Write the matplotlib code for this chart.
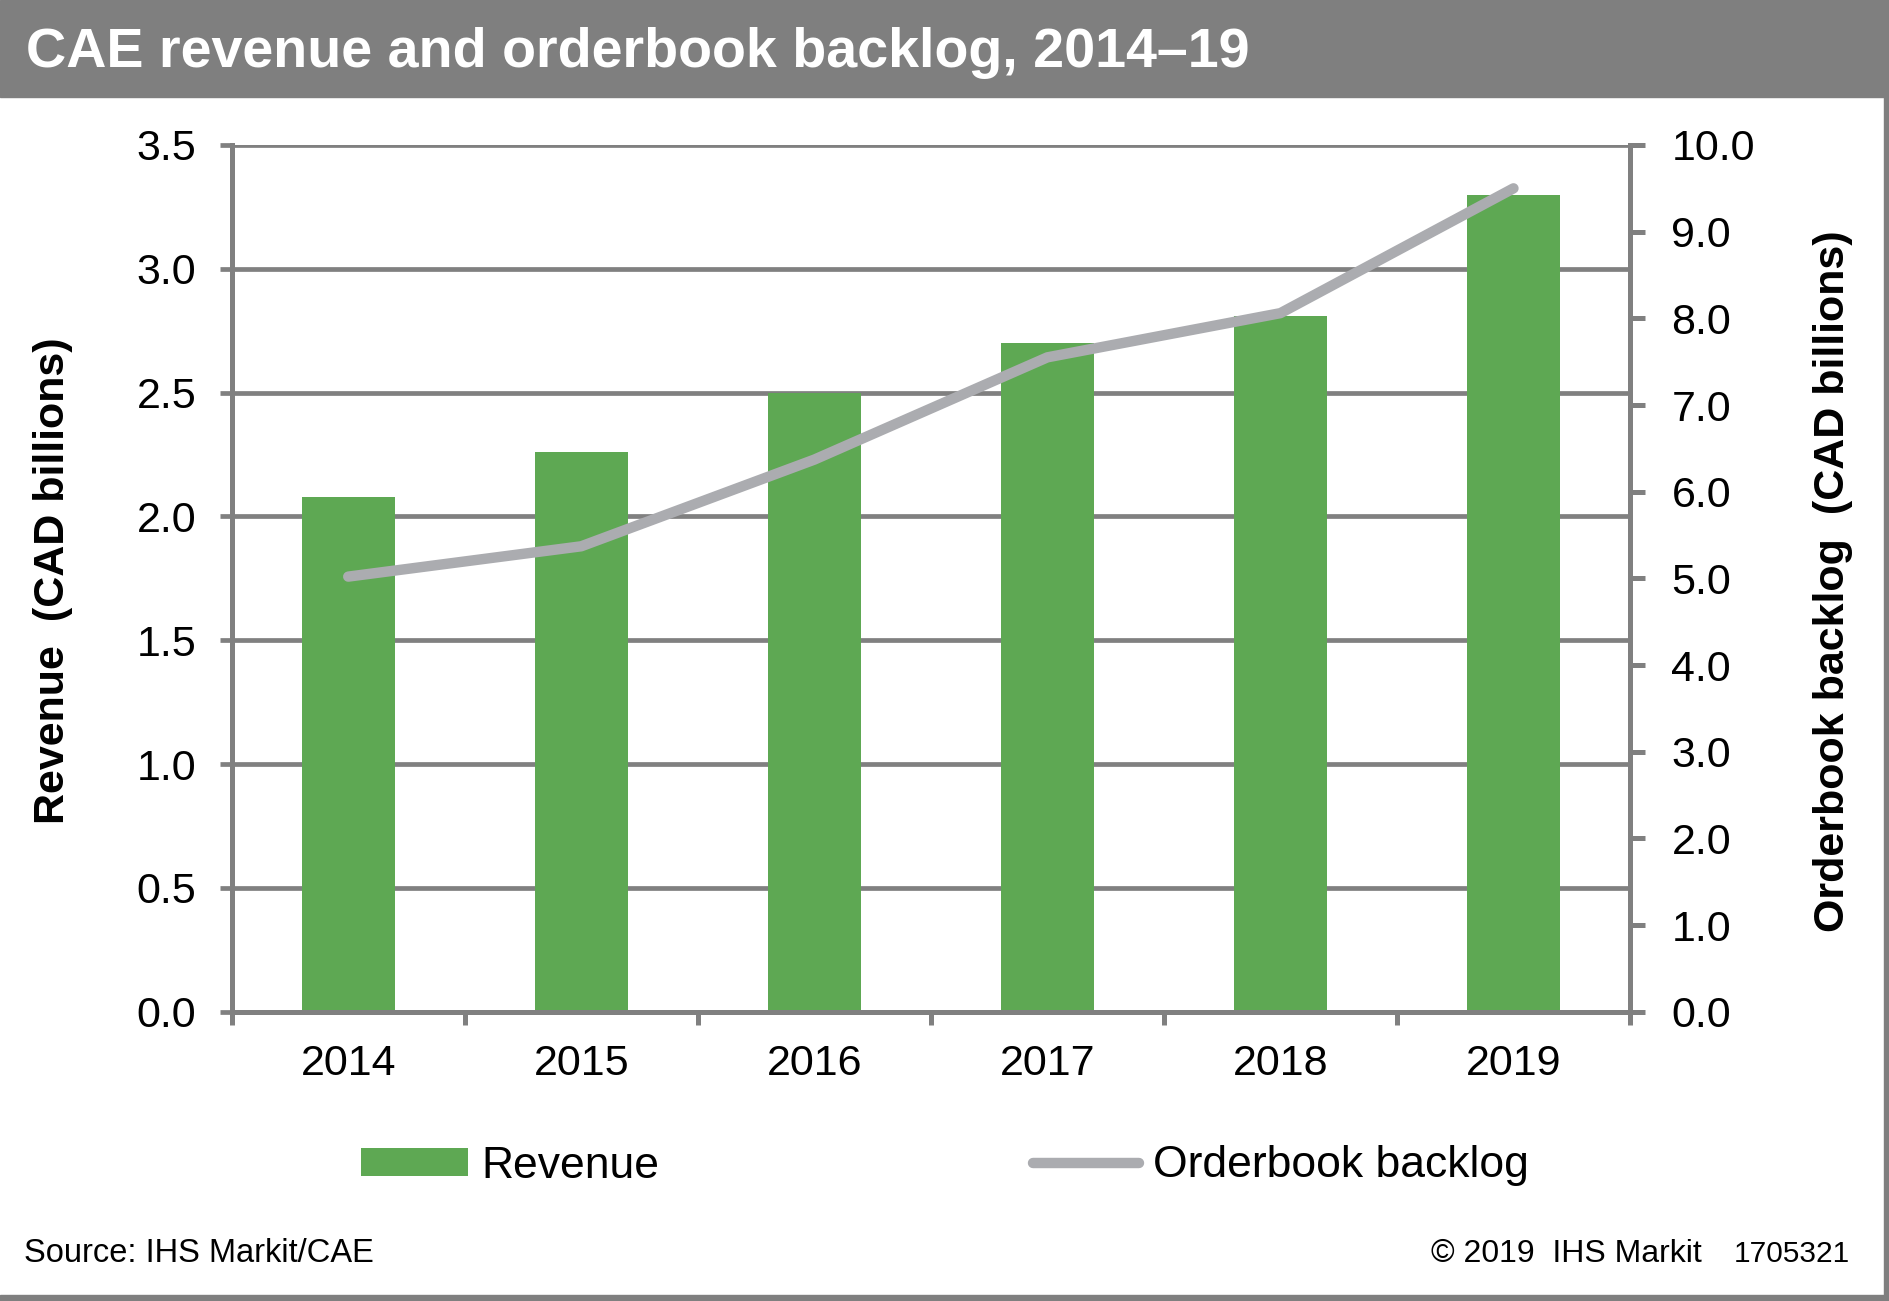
import matplotlib
matplotlib.use('Agg')
import matplotlib.pyplot as plt
from matplotlib.patches import Rectangle
import numpy as np

plt.rcParams['font.family'] = ['Liberation Sans', 'DejaVu Sans']

years = ['2014', '2015', '2016', '2017', '2018', '2019']
revenue = [2.08, 2.26, 2.50, 2.70, 2.81, 3.30]
backlog = [5.02, 5.37, 6.37, 7.55, 8.06, 9.50]
left_ticks = [0.0, 0.5, 1.0, 1.5, 2.0, 2.5, 3.0, 3.5]
right_ticks = [0.0, 1.0, 2.0, 3.0, 4.0, 5.0, 6.0, 7.0, 8.0, 9.0, 10.0]

green = '#5EA853'
line_gray = '#ABACB0'
axis_gray = '#808080'

W, H = 1890, 1301
fig = plt.figure(figsize=(W / 100, H / 100), dpi=100)

# header bar + outer frame
fig.patches.append(Rectangle((0, 1 - 97 / H), 1, 97 / H, transform=fig.transFigure,
                             color='#7F7F7F', zorder=0))
fig.patches.append(Rectangle((1 - 6 / W, 0), 6 / W, 1, transform=fig.transFigure,
                             color='#7F7F7F', zorder=0))
fig.patches.append(Rectangle((0, 0), 1, 6 / H, transform=fig.transFigure,
                             color='#7F7F7F', zorder=0))
fig.text(26 / W, 1 - 67 / H, 'CAE revenue and orderbook backlog, 2014\u201319',
         color='white', fontsize=40.1, fontweight='bold', va='baseline')

ax = fig.add_axes([231.7 / W, 1 - 1011.7 / H, (1630 - 231.7) / W, (1011.7 - 145) / H])
x = np.arange(len(years))
bars = ax.bar(x, revenue, width=0.40, color=green, zorder=2, label='Revenue')

ax.set_xlim(-0.5, len(years) - 0.5)
ax.set_ylim(0, 3.5)
ax.set_yticks(left_ticks)
ax.set_yticklabels([f'{v:.1f}' for v in left_ticks])
ax.yaxis.grid(True, color=axis_gray, linewidth=3.4, zorder=0)
ax.set_axisbelow(True)

ax.set_xticks(np.arange(-0.5, len(years), 1))
ax.set_xticklabels([])
ax.set_xticks(x, minor=True)
ax.set_xticklabels(years, minor=True)
ax.tick_params(axis='x', which='major', direction='out', length=9.4, width=3.6, color=axis_gray)
ax.tick_params(axis='x', which='minor', length=0, pad=23, labelsize=31)
ax.tick_params(axis='y', direction='out', length=8.6, width=3.4, color=axis_gray,
               pad=17, labelsize=31)

for side in ['left', 'bottom', 'right']:
    ax.spines[side].set_color(axis_gray)
    ax.spines[side].set_linewidth(3.6)
ax.spines['top'].set_visible(False)

ax.set_ylabel('Revenue  (CAD billions)', fontsize=31, fontweight='bold', va='center')
ax.yaxis.set_label_coords(-0.1278, 0.497)

ax2 = ax.twinx()
line, = ax2.plot(x, backlog, color=line_gray, linewidth=7.5, solid_capstyle='round',
                 solid_joinstyle='round', zorder=3, label='Orderbook backlog')
ax2.set_ylim(0, 10)
ax2.set_yticks(right_ticks)
ax2.set_yticklabels([f'{v:.1f}' for v in right_ticks])
ax2.tick_params(axis='y', direction='out', length=10.8, width=3.6, color=axis_gray,
                pad=19, labelsize=31)
for side in ['left', 'bottom', 'top']:
    ax2.spines[side].set_visible(False)
ax2.spines['right'].set_color(axis_gray)
ax2.spines['right'].set_linewidth(3.6)
ax2.set_ylabel('Orderbook backlog  (CAD billions)', fontsize=31, fontweight='bold',
               rotation=90, va='center')
ax2.yaxis.set_label_coords(1.1452, 0.497)

fig.legend([bars, line], ['Revenue', 'Orderbook backlog'], loc='center',
           bbox_to_anchor=(0.5, 1 - 1166 / H), ncol=2, frameon=False, fontsize=32,
           handlelength=2.4, handleheight=0.6, handletextpad=0.3, columnspacing=8.4)

fig.text(24 / W, 1 - 1262 / H, 'Source: IHS Markit/CAE', fontsize=23.5, va='baseline')
fig.text(1702 / W, 1 - 1262 / H, '\u00a9 2019  IHS Markit', fontsize=23, va='baseline', ha='right')
fig.text(1850 / W, 1 - 1262 / H, '1705321', fontsize=21.5, va='baseline', ha='right')

fig.savefig('out.png', dpi=100)
